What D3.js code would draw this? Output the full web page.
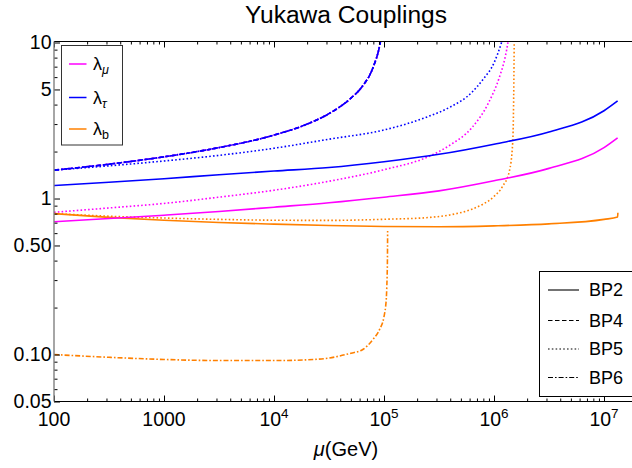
<!DOCTYPE html>
<html><head><meta charset="utf-8">
<script src="https://cdn.jsdelivr.net/npm/d3@7"></script>
<style>
body{margin:0;background:#fff;}
svg{display:block;font-family:"Liberation Sans",Arial,Helvetica,sans-serif;}
</style></head><body>
<svg id="chart" width="632" height="468"></svg>
<script>
// ---------- data ----------
const titleText = "Yukawa Couplings";
const xTickValues = [1e2, 1e3, 1e4, 1e5, 1e6, 1e7];
const xTickBase = ["100", "1000", "10", "10", "10", "10"];
const xTickExp = ["", "", "4", "5", "6", "7"];
const yTickValues = [10, 5, 1, 0.5, 0.1, 0.05];
const yTickLabels = ["10", "5", "1", "0.50", "0.10", "0.05"];
const yMinorValues = [0.06, 0.07, 0.08, 0.09, 0.2, 0.3, 0.4, 0.6, 0.7, 0.8, 0.9, 2, 3, 4, 6, 7, 8, 9];

const couplingNames = ["μ", "τ", "b"];
const couplingColors = ["#ff00ff", "#0000ff", "#ff8000"];
const bpNames = ["BP2", "BP4", "BP5", "BP6"];
const bpDash = [null, "4.5,2.5", "1.6,2.2", "5,2,1.6,2"];

// BP2 (solid)
const muBP2 = [1e2, 3.16e2, 1e3, 3.16e3, 1e4, 3.16e4, 1e5, 3.16e5, 1e6, 3.16e6, 1e7, 1.33e7];
const tauBP2 = [1.21, 1.27, 1.34, 1.42, 1.50, 1.58, 1.72, 1.92, 2.23, 2.67, 3.65, 4.22];
const lmuBP2 = [0.71, 0.745, 0.782, 0.825, 0.88, 0.94, 1.02, 1.12, 1.30, 1.56, 2.12, 2.45];
const muBP2b = [1e2, 3.16e2, 1e3, 3.16e3, 1e4, 3.16e4, 1e5, 3.16e5, 1e6, 3.16e6, 1e7, 1.33e7, 1.337e7];
const bBP2 = [0.80, 0.757, 0.726, 0.702, 0.685, 0.671, 0.662, 0.659, 0.668, 0.688, 0.735, 0.762, 0.81];

// BP5 (dotted)
const muTauBP5 = [1e2, 3.16e2, 1e3, 3.16e3, 1e4, 3.16e4, 1e5, 2.51e5, 3.98e5, 6.31e5, 7.94e5, 1e6, 1.17e6, 1.26e6];
const tauBP5 = [1.52, 1.62, 1.74, 1.89, 2.10, 2.40, 2.75, 3.35, 3.85, 4.8, 5.8, 7.4, 10.0, 12.0];
const muLmuBP5 = [1e2, 3.16e2, 1e3, 3.16e3, 1e4, 3.16e4, 1e5, 2.51e5, 3.98e5, 6.31e5, 8.91e5, 1.12e6, 1.26e6, 1.35e6, 1.41e6];
const lmuBP5 = [0.816, 0.87, 0.93, 1.02, 1.13, 1.29, 1.53, 1.85, 2.2, 2.85, 4.1, 6.0, 8.0, 10.5, 14];
const muBBP5 = [1e2, 3.16e2, 1e3, 3.16e3, 1e4, 3.16e4, 1e5, 2.51e5, 3.98e5, 6.31e5, 7.94e5, 1e6, 1.2e6, 1.38e6, 1.48e6, 1.51e6, 1.53e6];
const bBP5 = [0.80, 0.77, 0.75, 0.735, 0.726, 0.724, 0.736, 0.755, 0.785, 0.855, 0.92, 1.03, 1.2, 1.5, 2.3, 4.5, 12];

// BP4 and BP6 (λμ and λτ coincide)
const muTauBP46 = [1e2, 3.16e2, 1e3, 3.16e3, 1e4, 2e4, 3.16e4, 5.01e4, 6.31e4, 7.94e4, 9.12e4, 1e5];
const tauBP46 = [1.52, 1.66, 1.85, 2.12, 2.55, 3.0, 3.5, 4.4, 5.2, 6.9, 9.5, 14];
// BP6 λb (dot-dashed)
const muBBP6 = [1e2, 3.16e2, 1e3, 3.16e3, 1e4, 2e4, 3.16e4, 5.01e4, 6.31e4, 7.94e4, 9.12e4, 1e5, 1.05e5, 1.06e5, 1.074e5, 1.079e5];
const bBP6 = [0.100, 0.096, 0.093, 0.0915, 0.0915, 0.0925, 0.095, 0.102, 0.107, 0.125, 0.145, 0.175, 0.23, 0.27, 0.4, 0.62];

// ---------- drawing ----------
const svg = d3.select("#chart");
const pLeft = 54, pRight = 640, pTop = 41.5, pBottom = 401.5;
const x = d3.scaleLog().domain([1e2, 1e7]).range([54, 604]);
const y = d3.scaleLog().domain([0.05, 10]).range([401.5, 42.5]);

svg.append("defs").append("clipPath").attr("id", "clip")
  .append("rect").attr("x", pLeft).attr("y", pTop).attr("width", pRight - pLeft).attr("height", pBottom - pTop);

// title
svg.append("text").attr("x", 346).attr("y", 23).attr("text-anchor", "middle")
  .attr("font-size", 23).attr("textLength", 202).attr("lengthAdjust", "spacingAndGlyphs")
  .attr("fill", "#000").text(titleText);

const line = d3.line().x(d => x(d[0])).y(d => y(d[1])).curve(d3.curveMonotoneX);
const zip = (a, b) => a.map((v, i) => [v, b[i]]);

const series = [
  {mu: muTauBP46, v: tauBP46, c: couplingColors[0], dash: bpDash[1]},
  {mu: muTauBP46, v: tauBP46, c: couplingColors[0], dash: bpDash[3]},
  {mu: muTauBP46, v: tauBP46, c: couplingColors[1], dash: bpDash[1]},
  {mu: muTauBP46, v: tauBP46, c: couplingColors[1], dash: bpDash[3]},
  {mu: muBBP6, v: bBP6, c: couplingColors[2], dash: bpDash[3]},
  {mu: muBBP5, v: bBP5, c: couplingColors[2], dash: bpDash[2]},
  {mu: muLmuBP5, v: lmuBP5, c: couplingColors[0], dash: bpDash[2]},
  {mu: muTauBP5, v: tauBP5, c: couplingColors[1], dash: bpDash[2]},
  {mu: muBP2b, v: bBP2, c: couplingColors[2], dash: bpDash[0]},
  {mu: muBP2, v: lmuBP2, c: couplingColors[0], dash: bpDash[0]},
  {mu: muBP2, v: tauBP2, c: couplingColors[1], dash: bpDash[0]},
];

const gCurves = svg.append("g").attr("clip-path", "url(#clip)");
series.forEach(s => {
  gCurves.append("path").attr("d", line(zip(s.mu, s.v)))
    .attr("fill", "none").attr("stroke", s.c).attr("stroke-width", 1.6)
    .attr("stroke-dasharray", s.dash);
});

// axes ticks
const xMinor = [];
for (let e = 2; e <= 7; e++) for (let m = 2; m <= 9; m++) xMinor.push(m * Math.pow(10, e));
const styleAxis = g => { g.select(".domain").remove(); g.selectAll("line").attr("stroke", "#000"); g.selectAll("text").remove(); };

svg.append("g").attr("transform", `translate(0,${pBottom})`)
  .call(d3.axisBottom(x).tickValues(xTickValues).tickSizeInner(-6).tickSizeOuter(0)).call(styleAxis);
svg.append("g").attr("transform", `translate(0,${pBottom})`)
  .call(d3.axisBottom(x).tickValues(xMinor).tickSizeInner(-3).tickSizeOuter(0)).call(styleAxis);
svg.append("g").attr("transform", `translate(0,${pTop})`)
  .call(d3.axisTop(x).tickValues(xTickValues).tickSizeInner(-6).tickSizeOuter(0)).call(styleAxis);
svg.append("g").attr("transform", `translate(0,${pTop})`)
  .call(d3.axisTop(x).tickValues(xMinor).tickSizeInner(-3).tickSizeOuter(0)).call(styleAxis);
svg.append("g").attr("transform", `translate(${pLeft},0)`)
  .call(d3.axisLeft(y).tickValues(yTickValues).tickSizeInner(-6).tickSizeOuter(0)).call(styleAxis);
svg.append("g").attr("transform", `translate(${pLeft},0)`)
  .call(d3.axisLeft(y).tickValues(yMinorValues).tickSizeInner(-3.5).tickSizeOuter(0)).call(styleAxis);

// spines
svg.append("line").attr("x1", pLeft).attr("x2", 632).attr("y1", pBottom).attr("y2", pBottom).attr("stroke", "#000").attr("stroke-width", 1.2);
svg.append("line").attr("x1", pLeft).attr("x2", 632).attr("y1", pTop).attr("y2", pTop).attr("stroke", "#000").attr("stroke-width", 1.2);
svg.append("line").attr("x1", pLeft).attr("x2", pLeft).attr("y1", pTop).attr("y2", pBottom).attr("stroke", "#808080").attr("stroke-width", 1.4);

// x tick labels
xTickValues.forEach((v, i) => {
  const t = svg.append("text").attr("x", x(v)).attr("y", 426).attr("text-anchor", "middle")
    .attr("font-size", 19.5).attr("fill", "#000");
  t.append("tspan").text(xTickBase[i]);
  if (xTickExp[i]) t.append("tspan").attr("dy", -8).attr("font-size", 13.5).text(xTickExp[i]);
});
// y tick labels
yTickValues.forEach((v, i) => {
  svg.append("text").attr("x", 51.5).attr("y", y(v)).attr("dy", "0.35em").attr("text-anchor", "end")
    .attr("font-size", 19.5).attr("fill", "#000").text(yTickLabels[i]);
});
// x axis title
const xl = svg.append("text").attr("x", 346).attr("y", 456).attr("text-anchor", "middle").attr("font-size", 20).attr("fill", "#000");
xl.append("tspan").attr("font-style", "italic").text("μ");
xl.append("tspan").text("(GeV)");

// legend: couplings
const lg1 = svg.append("g");
lg1.append("rect").attr("x", 61.5).attr("y", 45.5).attr("width", 61).attr("height", 99.5)
  .attr("fill", "#fff").attr("stroke", "#333").attr("stroke-width", 1);
const lg1Y = [64, 97.5, 129];
couplingNames.forEach((n, i) => {
  lg1.append("line").attr("x1", 69).attr("x2", 86.5).attr("y1", lg1Y[i]).attr("y2", lg1Y[i])
    .attr("stroke", couplingColors[i]).attr("stroke-width", 1.5);
  const t = lg1.append("text").attr("x", 93).attr("y", lg1Y[i] + 6).attr("font-size", 18).attr("fill", "#000");
  t.append("tspan").text("λ");
  t.append("tspan").attr("dy", 4).attr("font-size", 12.5).attr("font-style", n === "b" ? "normal" : "italic").text(n);
});

// legend: benchmark points
const lg2 = svg.append("g");
lg2.append("rect").attr("x", 539.5).attr("y", 271.5).attr("width", 120).attr("height", 125)
  .attr("fill", "#fff").attr("stroke", "#000").attr("stroke-width", 1);
const lg2Y = [290, 320.5, 349, 377.5];
bpNames.forEach((n, i) => {
  lg2.append("line").attr("x1", 548).attr("x2", 579).attr("y1", lg2Y[i]).attr("y2", lg2Y[i])
    .attr("stroke", "#000").attr("stroke-width", 1.1).attr("stroke-dasharray", bpDash[i]);
  lg2.append("text").attr("x", 589).attr("y", lg2Y[i]).attr("dy", "0.36em").attr("font-size", 18)
    .attr("fill", "#000").text(n);
});
</script>
</body></html>
